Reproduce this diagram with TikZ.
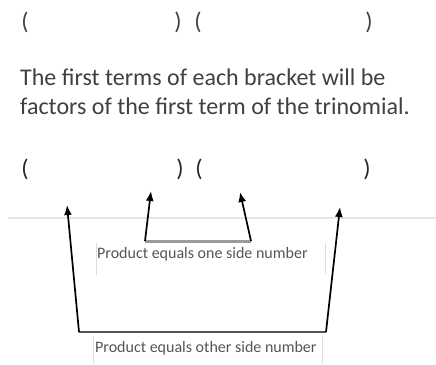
\documentclass[tikz,border=0pt]{standalone}
\usepackage{fontspec}
\setmainfont{Carlito}
\usetikzlibrary{arrows.meta}
\definecolor{txtgray}{HTML}{404040}
\definecolor{lightrule}{HTML}{E6E6E6}
\definecolor{boxedge}{HTML}{DDDDDD}
\definecolor{midgray}{HTML}{9A9A9A}
\definecolor{darkline}{HTML}{555555}
\begin{document}
\begin{tikzpicture}[x=1pt,y=-1pt,
  bigtxt/.style={font=\fontsize{24}{29}\selectfont, text=txtgray, inner sep=0pt},
  brk/.style={font=\fontsize{24}{29}\selectfont, inner sep=0pt},
  smalltxt/.style={font=\fontsize{16}{19}\selectfont, text=darkline, inner sep=0pt, anchor=west},
  arr/.style={line width=1.7pt, black, -{Latex[length=10pt,width=8pt]}},
  edge/.style={draw=boxedge, line width=1pt}]
\useasboundingbox (0,0) rectangle (436,364);
% top row of brackets
\node[brk, text=txtgray] (t1) at (25,22) {(};
\node[brk, text=txtgray] (t2) at (178,22) {)};
\node[brk, text=txtgray] (t3) at (198,22) {(};
\node[brk, text=txtgray] (t4) at (369,22) {)};
% text
\node[bigtxt, anchor=west] (l1) at (20,77) {The first terms of each bracket will be};
\node[bigtxt, anchor=west] (l2) at (20,106) {factors of the first term of the trinomial.};
% second row of brackets
\node[brk, text=black!85] (b1) at (25,169) {(};
\node[brk, text=black!85] (b2) at (180,169) {)};
\node[brk, text=black!85] (b3) at (199,169) {(};
\node[brk, text=black!85] (b4) at (367,169) {)};
% grey rule
\coordinate (r1) at (8,218);
\coordinate (r2) at (436,218);
\draw[draw=lightrule, line width=2pt] (r1) -- (r2);
% text boxes
\node[smalltxt] (s1) at (97,254) {Product equals one side number};
\coordinate (s1a) at (96,243); \coordinate (s1b) at (96,275);
\coordinate (s1c) at (325,243); \coordinate (s1d) at (325,274);
\draw[edge] (s1a) -- (s1b);
\draw[edge] (s1c) -- (s1d);
\node[smalltxt] (s2) at (95,348) {Product equals other side number};
\coordinate (s2a) at (93,336); \coordinate (s2b) at (93,364);
\coordinate (s2c) at (322,336); \coordinate (s2d) at (322,364);
\draw[edge] (s2a) -- (s2b);
\draw[edge] (s2c) -- (s2d);
% middle arrows
\coordinate (m1) at (145,241);
\coordinate (m2) at (251,241);
\coordinate (mt1) at (151,191);
\coordinate (mt2) at (240,192);
\draw[midgray, line width=3pt] (m1) -- (m2);
\draw[arr] (m1) -- (mt1);
\draw[arr] (m2) -- (mt2);
% outer arrows
\coordinate (o1) at (79,332);
\coordinate (o2) at (326,332);
\coordinate (ot1) at (67,205);
\coordinate (ot2) at (340,207);
\draw[darkline, line width=2pt] (o1) -- (o2);
\draw[arr] (o1) -- (ot1);
\draw[arr] (o2) -- (ot2);
\end{tikzpicture}
\end{document}
